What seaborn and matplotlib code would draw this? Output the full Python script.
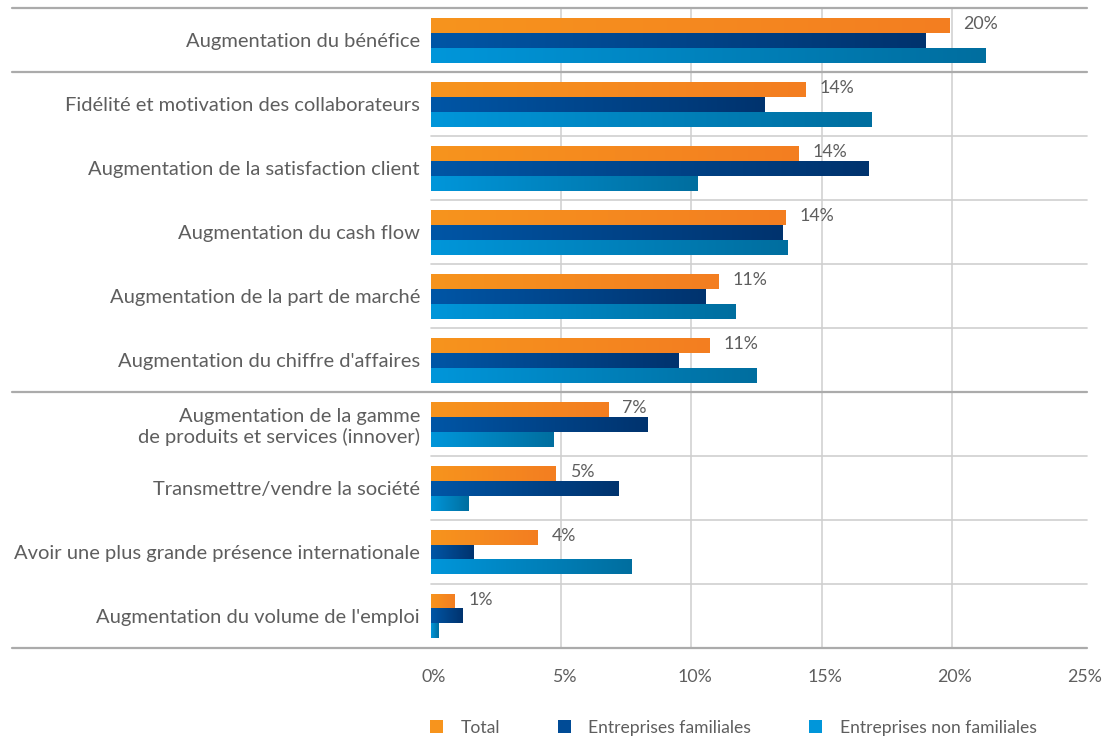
import numpy as np
import pandas as pd
import matplotlib
matplotlib.use('Agg')
import matplotlib.pyplot as plt
import matplotlib.transforms as mtransforms
from matplotlib.colors import LinearSegmentedColormap
from matplotlib.patches import Patch
import seaborn as sns

# Données (%)
categories = [
    'Augmentation du bénéfice',
    'Fidélité et motivation des collaborateurs',
    'Augmentation de la satisfaction client',
    'Augmentation du cash flow',
    'Augmentation de la part de marché',
    "Augmentation du chiffre d'affaires",
    'Augmentation de la gamme\nde produits et services (innover)',
    'Transmettre/vendre la société',
    'Avoir une plus grande présence internationale',
    "Augmentation du volume de l'emploi",
]
series = ['Total', 'Entreprises familiales', 'Entreprises non familiales']
total = [19.9, 14.4, 14.1, 13.6, 11.05, 10.7, 6.8, 4.8, 4.1, 0.9]
familiales = [19.0, 12.8, 16.8, 13.5, 10.55, 9.5, 8.3, 7.2, 1.65, 1.2]
non_familiales = [21.3, 16.9, 10.25, 13.7, 11.7, 12.5, 4.7, 1.45, 7.7, 0.3]
x_ticks = [0, 5, 10, 15, 20, 25]

# couleurs (début -> fin du dégradé)
colors_start = ['#F7941D', '#0056A6', '#0096DA']
colors_end = ['#F37E21', '#00336E', '#006E9F']
TEXT = '#5e5e5e'

df = pd.DataFrame({
    'categorie': categories * 3,
    'serie': np.repeat(series, len(categories)),
    'valeur': total + familiales + non_familiales,
})

sns.set_theme(style='white')
plt.rcParams['font.family'] = ['Lato', 'DejaVu Sans']

fig = plt.figure(figsize=(11.04, 7.36), dpi=100)
ax = fig.add_axes([431 / 1104, 1 - 648 / 736, 651 / 1104, 639.5 / 736])

sns.barplot(data=df, y='categorie', x='valeur', hue='serie',
            hue_order=series, order=categories, palette=colors_start,
            orient='h', width=0.70, legend=False, ax=ax, saturation=1,
            edgecolor='none', linewidth=0)

# dégradé horizontal sur chaque barre
grad = np.linspace(0, 1, 256).reshape(1, -1)
for cont, c0, c1 in zip(ax.containers, colors_start, colors_end):
    cmap = LinearSegmentedColormap.from_list('g', [c0, c1])
    for p in cont.patches:
        x, y, w, h = p.get_x(), p.get_y(), p.get_width(), p.get_height()
        if w <= 0:
            continue
        ax.imshow(grad, extent=[x, x + w, y + h, y], aspect='auto',
                  cmap=cmap, interpolation='bicubic', zorder=p.get_zorder() + 0.1)

n = len(categories)
ax.set_xlim(0, 25)
ax.set_ylim(n - 0.5, -0.5)
ax.set_xticks(x_ticks)
ax.set_xticklabels([f'{t}%' for t in x_ticks])
ax.set_xlabel('')
ax.set_ylabel('')
for s in ax.spines.values():
    s.set_visible(False)
ax.tick_params(axis='y', length=0, pad=8, labelsize=14.5, labelcolor=TEXT)
ax.tick_params(axis='x', length=0, pad=15, labelsize=12.8, labelcolor=TEXT)
for lbl in ax.get_xticklabels():
    lbl.set_transform(lbl.get_transform() + mtransforms.ScaledTranslation(3 / 100, 0, fig.dpi_scale_trans))

# grille verticale
for t in x_ticks[1:-1]:
    ax.axvline(t, color='#d2d2d2', lw=1.2, zorder=0)

# séparateurs horizontaux
tr = mtransforms.blended_transform_factory(fig.transFigure, ax.transData)
major = [-0.5, 0.5, 5.5, n - 0.5]
for i in range(n + 1):
    yy = i - 0.5
    if yy in major:
        ax.plot([12 / 1104, 1087 / 1104], [yy, yy], transform=tr,
                color='#ababab', lw=1.6, clip_on=False, zorder=1)
    else:
        ax.plot([431 / 1104, 1087 / 1104], [yy, yy], transform=tr,
                color='#cfcfcf', lw=1.2, clip_on=False, zorder=1)

# étiquettes de valeur (Total)
tot_bars = ax.containers[0].patches
for p, v in zip(tot_bars, total):
    ax.annotate(f'{round(v):.0f}%', (p.get_x() + p.get_width(), p.get_y() + p.get_height() / 2),
                xytext=(10, 1), textcoords='offset points', va='center', ha='left',
                fontsize=12.8, color=TEXT)

# légende
handles = [Patch(facecolor=c, edgecolor='none') for c in ['#F7941D', '#004B96', '#0096DA']]
fig.legend(handles, series, loc='center left', bbox_to_anchor=(430 / 1104, 1 - 728 / 736),
           ncol=3, frameon=False, fontsize=12.6, labelcolor=TEXT,
           handlelength=0.75, handleheight=0.75, handletextpad=1.0,
           columnspacing=3.3, borderpad=0, borderaxespad=0)

fig.savefig('out.png', dpi=100)
